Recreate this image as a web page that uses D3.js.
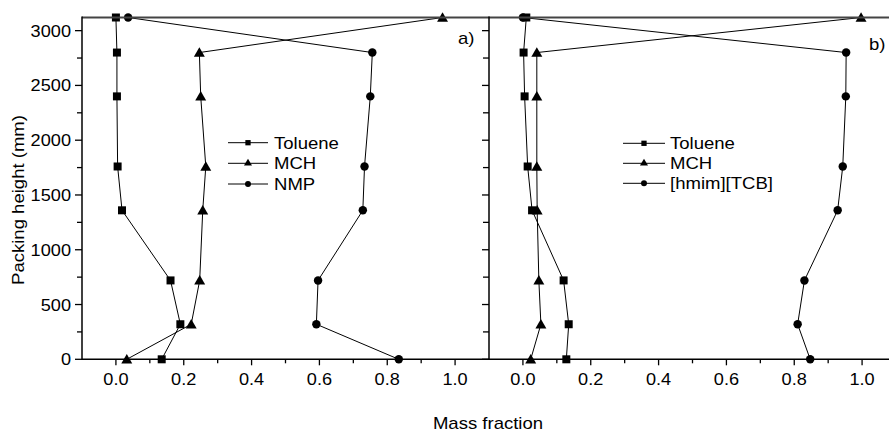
<!DOCTYPE html>
<html>
<head>
<meta charset="utf-8">
<script src="https://cdn.jsdelivr.net/npm/d3@7"></script>
<style>
html,body{margin:0;padding:0;background:#fff;overflow:hidden;}
svg{display:block;font-family:"Liberation Sans",Arial,Helvetica,sans-serif;}
</style>
</head>
<body>
<svg id="chart" width="889" height="433"></svg>
<script>
// ---------- data ----------
const heights   = [0, 320, 720, 1360, 1760, 2400, 2800, 3120];
const tolueneA  = [0.135, 0.190, 0.161, 0.018, 0.005, 0.003, 0.003, 0.000];
const mchA      = [0.032, 0.222, 0.247, 0.256, 0.265, 0.250, 0.246, 0.963];
const nmpA      = [0.834, 0.591, 0.596, 0.728, 0.733, 0.750, 0.756, 0.036];
const tolueneB  = [0.128, 0.135, 0.120, 0.027, 0.014, 0.005, 0.002, 0.010];
const mchB      = [0.023, 0.053, 0.047, 0.042, 0.041, 0.041, 0.041, 0.997];
const ilB       = [0.847, 0.810, 0.830, 0.928, 0.943, 0.952, 0.953, 0.000];
const legendA   = ["Toluene", "MCH", "NMP"];
const legendB   = ["Toluene", "MCH", "[hmim][TCB]"];
const xTicks    = [0.0, 0.2, 0.4, 0.6, 0.8, 1.0];
const yTicks    = [0, 500, 1000, 1500, 2000, 2500, 3000];
const panelTags = ["a)", "b)"];

// ---------- layout ----------
const svg = d3.select("#chart");
const topY = 17.5, bottomY = 359.3;
const leftX = 82, midX = 489, panelW = 407;
const STRETCH = 1.09;
const y = d3.scaleLinear().domain([0, 3120]).range([bottomY, topY]);
const xA = d3.scaleLinear().domain([-0.1, 1.1]).range([leftX, leftX + panelW]);
const xB = d3.scaleLinear().domain([-0.1, 1.1]).range([midX, midX + panelW]);

function stretch(sel, k) {
  sel.each(function () {
    const w = this.getComputedTextLength();
    this.setAttribute("textLength", w * k);
    this.setAttribute("lengthAdjust", "spacingAndGlyphs");
  });
}

const sym = {
  square: d3.symbol().type(d3.symbolSquare),
  triangle: d3.symbol().type(d3.symbolTriangle),
  circle: d3.symbol().type(d3.symbolCircle)
};
const shapes = ["square", "triangle", "circle"];
const sizes = { square: 64, triangle: 52, circle: 56 };
const legSizes = { square: 28, triangle: 28, circle: 28 };

function drawPanel(x, series, names, legX, legRows, tag, tagPos) {
  const g = svg.append("g");
  const line = d3.line().x(d => x(d[0])).y(d => y(d[1]));
  series.forEach((vals, i) => {
    const pts = vals.map((v, j) => [v, heights[j]]);
    g.append("path").attr("d", line(pts))
      .attr("fill", "none").attr("stroke", "#000").attr("stroke-width", 1);
  });
  series.forEach((vals, i) => {
    const s = shapes[i];
    g.selectAll(null).data(vals.map((v, j) => [v, heights[j]])).enter()
      .append("path")
      .attr("d", sym[s].size(sizes[s])())
      .attr("transform", d => `translate(${x(d[0])},${y(d[1]) + (s === "triangle" ? 1 : 0)})`)
      .attr("fill", "#000");
  });
  // legend
  names.forEach((n, i) => {
    const cy = legRows[i];
    const s = shapes[i];
    g.append("line").attr("x1", legX[0]).attr("x2", legX[1]).attr("y1", cy).attr("y2", cy)
      .attr("stroke", "#000").attr("stroke-width", 1);
    g.append("path").attr("d", sym[s].size(legSizes[s])())
      .attr("transform", `translate(${(legX[0] + legX[1]) / 2},${cy})`).attr("fill", "#000");
    const t = g.append("text").attr("x", legX[2]).attr("y", cy + 6)
      .attr("font-size", 17).attr("fill", "#000").text(n);
    stretch(t, STRETCH);
  });
  const tt = g.append("text").attr("x", tagPos[0]).attr("y", tagPos[1])
    .attr("font-size", 17).attr("fill", "#000").text(tag);
  stretch(tt, STRETCH);
}

drawPanel(xA, [tolueneA, mchA, nmpA], legendA, [228, 268, 274], [142.7, 163.3, 184], panelTags[0], [458, 44]);
drawPanel(xB, [tolueneB, mchB, ilB], legendB, [623, 665, 670], [143.3, 163.3, 183.3], panelTags[1], [869, 50]);

// ---------- axes / frame ----------
const ax = svg.append("g").attr("stroke", "#000");
ax.append("line").attr("x1", leftX).attr("x2", 889).attr("y1", topY).attr("y2", topY)
  .attr("stroke", "#444").attr("stroke-width", 1.8);
ax.append("line").attr("x1", leftX).attr("x2", leftX).attr("y1", topY - 0.9).attr("y2", bottomY + 0.75)
  .attr("stroke-width", 1.5);
ax.append("line").attr("x1", midX).attr("x2", midX).attr("y1", topY - 0.9).attr("y2", bottomY + 0.75)
  .attr("stroke-width", 1.5);
ax.append("line").attr("x1", leftX).attr("x2", 889).attr("y1", bottomY).attr("y2", bottomY)
  .attr("stroke-width", 1.5);

const yMinor = d3.range(250, 3120, 500);
yTicks.forEach(v => {
  ax.append("line").attr("x1", leftX - 7).attr("x2", leftX).attr("y1", y(v)).attr("y2", y(v)).attr("stroke-width", 1.3);
  ax.append("line").attr("x1", midX - 7).attr("x2", midX).attr("y1", y(v)).attr("y2", y(v)).attr("stroke-width", 1.3);
});
yMinor.forEach(v => {
  ax.append("line").attr("x1", leftX - 5).attr("x2", leftX).attr("y1", y(v)).attr("y2", y(v)).attr("stroke-width", 1.3);
  ax.append("line").attr("x1", midX - 6).attr("x2", midX).attr("y1", y(v)).attr("y2", y(v)).attr("stroke-width", 1.3);
});
const yl = svg.append("g").selectAll(null).data(yTicks).enter().append("text")
  .attr("x", 71).attr("y", d => y(d) + 6).attr("text-anchor", "end")
  .attr("font-size", 16.5).attr("fill", "#000").text(d => d);
stretch(yl, 1.1);

const xMinor = [0.1, 0.3, 0.5, 0.7, 0.9];
[xA, xB].forEach(x => {
  xTicks.forEach(v => {
    ax.append("line").attr("x1", x(v)).attr("x2", x(v)).attr("y1", bottomY).attr("y2", bottomY + 6).attr("stroke-width", 1.3);
  });
  xMinor.forEach(v => {
    ax.append("line").attr("x1", x(v)).attr("x2", x(v)).attr("y1", bottomY).attr("y2", bottomY + 4).attr("stroke-width", 1.3);
  });
  const xl = svg.append("g").selectAll(null).data(xTicks).enter().append("text")
    .attr("x", d => x(d)).attr("y", 385).attr("text-anchor", "middle")
    .attr("font-size", 16.5).attr("fill", "#000").text(d => d3.format(".1f")(d));
  stretch(xl, 1.1);
});

const xt = svg.append("text").attr("x", 488).attr("y", 428.5).attr("text-anchor", "middle")
  .attr("font-size", 17).attr("fill", "#000").text("Mass fraction");
stretch(xt, STRETCH);
const ytit = svg.append("text").attr("transform", "translate(24,200) rotate(-90)")
  .attr("text-anchor", "middle").attr("font-size", 17).attr("fill", "#000").text("Packing height (mm)");
stretch(ytit, STRETCH);
</script>
</body>
</html>
